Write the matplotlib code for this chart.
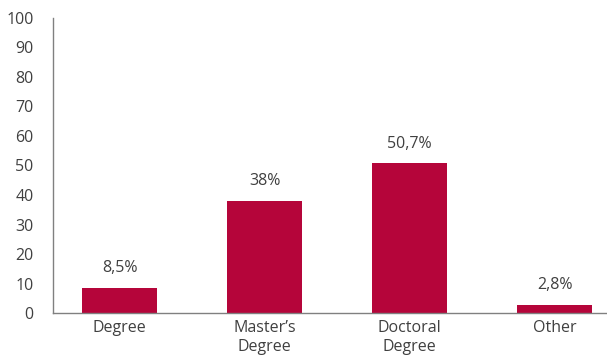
import matplotlib
matplotlib.use("Agg")
import matplotlib.pyplot as plt

categories = ["Degree", "Master’s\nDegree", "Doctoral\nDegree", "Other"]
values = [8.5, 38, 50.7, 2.8]
labels = ["8,5%", "38%", "50,7%", "2,8%"]
yticks = [0, 10, 20, 30, 40, 50, 60, 70, 80, 90, 100]

plt.rcParams['font.family'] = ['Open Sans', 'DejaVu Sans']
color = "#B5053A"
txt = "#404040"
fs = 11.5

fig = plt.figure(figsize=(6.07, 3.59), dpi=100)
ax = fig.add_axes([0.0873, 0.128, 0.9127, 0.822])
x = list(range(len(categories)))
ax.bar(x, values, width=0.52, color=color)
for xi, v, l in zip(x, values, labels):
    ax.text(xi, v + 4.0, l, ha="center", va="bottom", fontsize=fs, color=txt)
ax.set_xlim(-0.46, 3.36)
ax.set_ylim(0, 100)
ax.set_yticks(yticks)
ax.set_xticks(x)
ax.set_xticklabels(categories, fontsize=fs, color=txt, linespacing=1.25)
ax.tick_params(axis="both", length=0, labelsize=fs, labelcolor=txt)
ax.tick_params(axis="y", pad=14)
ax.tick_params(axis="x", pad=5)
for s in ["top", "right"]:
    ax.spines[s].set_visible(False)
for s in ["left", "bottom"]:
    ax.spines[s].set_color("#808080")
    ax.spines[s].set_linewidth(1.0)
fig.savefig("out.png", dpi=100)
